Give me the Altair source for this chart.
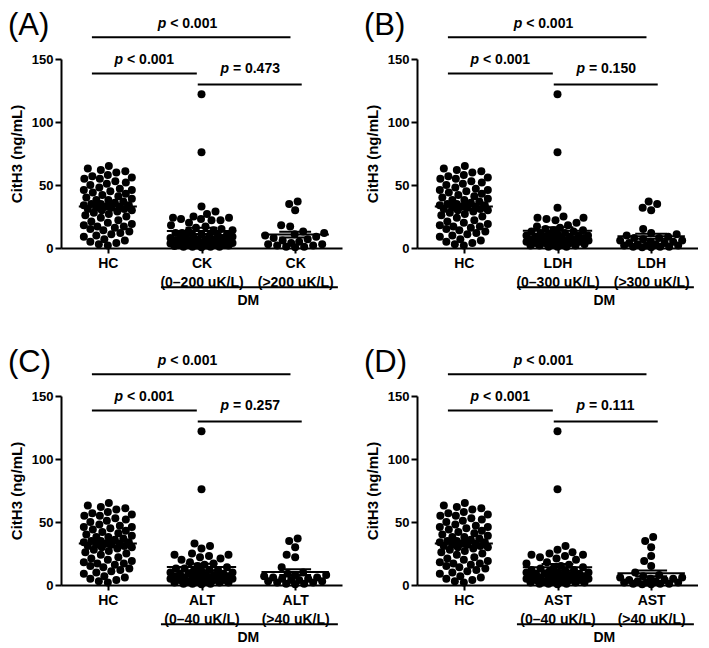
import altair as alt
import numpy as np
import pandas as pd

# ---------------- data ----------------
HC = [65, 63, 62, 61, 60, 58, 57, 56, 55, 55, 53, 52, 51, 50, 48, 47, 46, 46, 45, 44,
      43, 42, 41, 40, 39, 38, 38, 37, 36, 35, 35, 34, 34, 33, 33, 32, 32, 31, 31, 30,
      30, 29, 28, 27, 26, 25, 24, 22, 21, 20, 19, 18, 17, 17, 16, 15, 14, 13, 12, 11,
      10, 9, 7, 6, 5, 4, 3, 2]

CK_LOW = [122, 76, 33, 29, 27, 25, 24, 24, 23, 23, 22, 22, 20, 18, 17, 16, 15, 14, 14, 13,
          12, 12, 11, 11, 10, 10, 10, 9, 9, 8, 8, 8, 7, 7, 7, 6, 6, 6, 5, 5,
          5, 4, 4, 4, 3.5, 3, 3, 3, 2.5, 2, 2, 2, 1.5, 1, 1, 1, 1, 0.5]
CK_HIGH = [37, 35, 30, 18, 17, 13, 12, 11, 10, 9, 8, 7, 6, 5, 4, 3, 3, 2, 2, 1, 1, 0.5]

LDH_LOW = [122, 76, 32, 25, 24, 24, 23, 22, 20, 18, 17, 16, 15, 14, 14, 13, 13, 12, 12, 11,
           11, 10, 10, 10, 9, 9, 9, 8, 8, 8, 7, 7, 7, 6, 6, 6, 5, 5, 5, 4,
           4, 4, 3, 3, 3, 2, 2, 2, 1, 1, 1]
LDH_HIGH = [37, 35, 32, 30, 15, 12, 11, 10, 9, 8, 8, 7, 6, 6, 5, 5, 4, 4, 3, 3,
            2, 2, 2, 1, 1, 1, 0.5, 0.5]

ALT_LOW = [122, 76, 33, 31, 29, 25, 24, 24, 23, 22, 21, 20, 18, 17, 16, 15, 14, 13, 13, 12,
           12, 11, 11, 10, 10, 9, 9, 9, 8, 8, 8, 7, 7, 7, 6, 6, 6, 5, 5, 5,
           4, 4, 4, 3, 3, 3, 2, 2, 2, 1, 1, 1, 0.5]
ALT_HIGH = [37, 35, 30, 24, 22, 14, 10, 9, 8, 8, 7, 6, 6, 5, 5, 4, 4, 3, 3, 2,
            2, 1, 1, 0.5]

AST_LOW = [122, 76, 31, 28, 26, 25, 24, 24, 23, 22, 21, 20, 18, 17, 16, 15, 14, 14, 13, 12,
           12, 11, 11, 10, 10, 10, 9, 9, 9, 8, 8, 8, 7, 7, 7, 6, 6, 6, 5, 5,
           5, 4, 4, 4, 3, 3, 3, 2, 2, 2, 1, 1, 1, 0.5]
AST_HIGH = [38, 35, 30, 23, 19, 15, 10, 8, 7, 6, 6, 5, 5, 4, 4, 3, 3, 2, 2, 2,
            1, 1, 1, 0.5, 0.5]

LETTERS = ["(A)", "(B)", "(C)", "(D)"]
MARKERS = ["CK", "LDH", "ALT", "AST"]
LOW_LABELS = ["(0–200 uK/L)", "(0–300 uK/L)", "(0–40 uK/L)", "(0–40 uK/L)"]
HIGH_LABELS = ["(>200 uK/L)", "(>300 uK/L)", "(>40 uK/L)", "(>40 uK/L)"]
LOWS = [CK_LOW, LDH_LOW, ALT_LOW, AST_LOW]
HIGHS = [CK_HIGH, LDH_HIGH, ALT_HIGH, AST_HIGH]
P_TOP = ["< 0.001"] * 4
P_MID = ["< 0.001"] * 4
P_RIGHT = ["= 0.473", "= 0.150", "= 0.257", "= 0.111"]
GROUP_LABEL = "DM"
Y_TITLE = "CitH3 (ng/mL)"

# ---------------- layout constants ----------------
W, H = 281, 189
YMAX = 150
PX_Y = H / YMAX
PX_X = W / 3.0
DOT = 8.6
FONT = "Liberation Sans"
FS = 14


def swarm(values, half_w):
    vals = np.array(sorted(values), dtype=float)
    ys = vals * PX_Y
    cands = np.arange(-half_w, half_w + 0.01, 0.5)
    cands = cands[np.argsort(np.abs(cands), kind="stable")]
    px, py, offs = [], [], []
    for y in ys:
        if not px:
            best = 0.0
        else:
            PXa = np.array(px)
            PYa = np.array(py)
            d = np.sqrt((cands[:, None] - PXa[None, :]) ** 2 + (y - PYa[None, :]) ** 2).min(axis=1)
            ok = np.where(d >= DOT)[0]
            best = cands[ok[0]] if len(ok) else cands[int(np.argmax(d))]
        px.append(best)
        py.append(y)
        offs.append(best)
    return vals, np.array(offs) / PX_X


def panel(i):
    groups = [HC, LOWS[i], HIGHS[i]]
    halfw = [24, 31, 31]
    meanw = [0.31, 0.37, 0.36]
    pts, rules = [], []
    for g, vals in enumerate(groups):
        v, o = swarm(vals, halfw[g])
        for vv, oo in zip(v, o):
            pts.append({"x": g + oo, "y": vv})
        arr = np.array(vals, dtype=float)
        m = arr.mean()
        sem = arr.std(ddof=1) / np.sqrt(len(arr))
        rules.append({"x": g - meanw[g], "x2": g + meanw[g], "y": m})
        rules.append({"x": g - 0.17, "x2": g + 0.17, "y": m + sem})
        rules.append({"x": g - 0.17, "x2": g + 0.17, "y": m - sem})
    # significance bars and group underline
    rules += [
        {"x": -0.17, "x2": 1.95, "y": 167.3},
        {"x": -0.17, "x2": 0.95, "y": 138.4},
        {"x": 0.96, "x2": 2.07, "y": 129.7},
        {"x": 0.567, "x2": 2.456, "y": -31.2},
    ]
    pdf = pd.DataFrame(pts)
    rdf = pd.DataFrame(rules)
    tdf = pd.DataFrame([
        {"x": 0.85, "y": 177.6, "t": P_TOP[i]},
        {"x": 0.39, "y": 149.0, "t": P_MID[i]},
        {"x": 1.52, "y": 142.0, "t": P_RIGHT[i]},
    ])
    gdf = pd.DataFrame([{"x": 1.5, "y": -41.8, "t": GROUP_LABEL}])
    ldf = pd.DataFrame([{"t": LETTERS[i]}])

    cats = ["HC", MARKERS[i] + "|" + LOW_LABELS[i], MARKERS[i] + "|" + HIGH_LABELS[i]]
    label_expr = "split([" + ",".join("'" + c + "'" for c in cats) + "][datum.value], '|')"

    xenc = alt.X("x:Q", scale=alt.Scale(domain=[-0.5, 2.5], nice=False, zero=False),
                 axis=alt.Axis(values=[0, 1, 2], labelExpr=label_expr, title=None, grid=False,
                               tickSize=5, tickWidth=2, domainWidth=2, domainColor="black",
                               tickColor="black", labelColor="black", labelFont=FONT,
                               labelFontSize=FS, labelFontWeight="bold", labelPadding=3,
                               labelLineHeight=19, labelBaseline="top"))
    yenc = alt.Y("y:Q", scale=alt.Scale(domain=[0, YMAX], nice=False, zero=True),
                 axis=alt.Axis(values=[0, 50, 100, 150], title=Y_TITLE, grid=False,
                               tickSize=6, tickWidth=2, domainWidth=2, domainColor="black",
                               tickColor="black", labelColor="black", labelFont=FONT,
                               labelFontSize=13, labelFontWeight="bold", labelPadding=2,
                               titleFont=FONT, titleFontSize=15, titleFontWeight="bold",
                               titleColor="black", titlePadding=7))

    pw = 0.611 * FS
    sp = 0.278 * FS
    restw = 3.364 * FS
    tot = pw + sp + restw
    points = alt.Chart(pdf).mark_circle(size=64, color="black", opacity=1).encode(x=xenc, y=yenc)
    lines = alt.Chart(rdf).mark_rule(color="black", strokeWidth=2).encode(x=xenc, x2="x2:Q", y=yenc)
    ptxt = alt.Chart(tdf).mark_text(text="p", font=FONT, fontSize=FS, fontWeight="bold",
                                    fontStyle="italic", align="left", baseline="middle",
                                    dx=-tot / 2, color="black").encode(x=xenc, y=yenc)
    rtxt = alt.Chart(tdf).mark_text(font=FONT, fontSize=FS, fontWeight="bold", align="left",
                                    baseline="middle", dx=-tot / 2 + pw + sp, color="black").encode(
        x=xenc, y=yenc, text="t:N")
    gtxt = alt.Chart(gdf).mark_text(font=FONT, fontSize=FS, fontWeight="bold", align="center",
                                    baseline="middle", color="black").encode(
        x=xenc, y=yenc, text="t:N")
    letter = alt.Chart(ldf).mark_text(font=FONT, fontSize=31, align="left", baseline="top",
                                      color="black").encode(
        x=alt.value(-53), y=alt.value(-48), text="t:N")
    return alt.layer(points, lines, ptxt, rtxt, gtxt, letter).properties(width=W, height=H)


chart = alt.vconcat(
    alt.hconcat(panel(0), panel(1), spacing=22),
    alt.hconcat(panel(2), panel(3), spacing=22),
    spacing=39,
).properties(padding={"left": 0, "top": 2, "right": 0, "bottom": 0}).configure_view(stroke=None)

chart.save("out.html", embed_options={"renderer": "svg", "actions": False})
